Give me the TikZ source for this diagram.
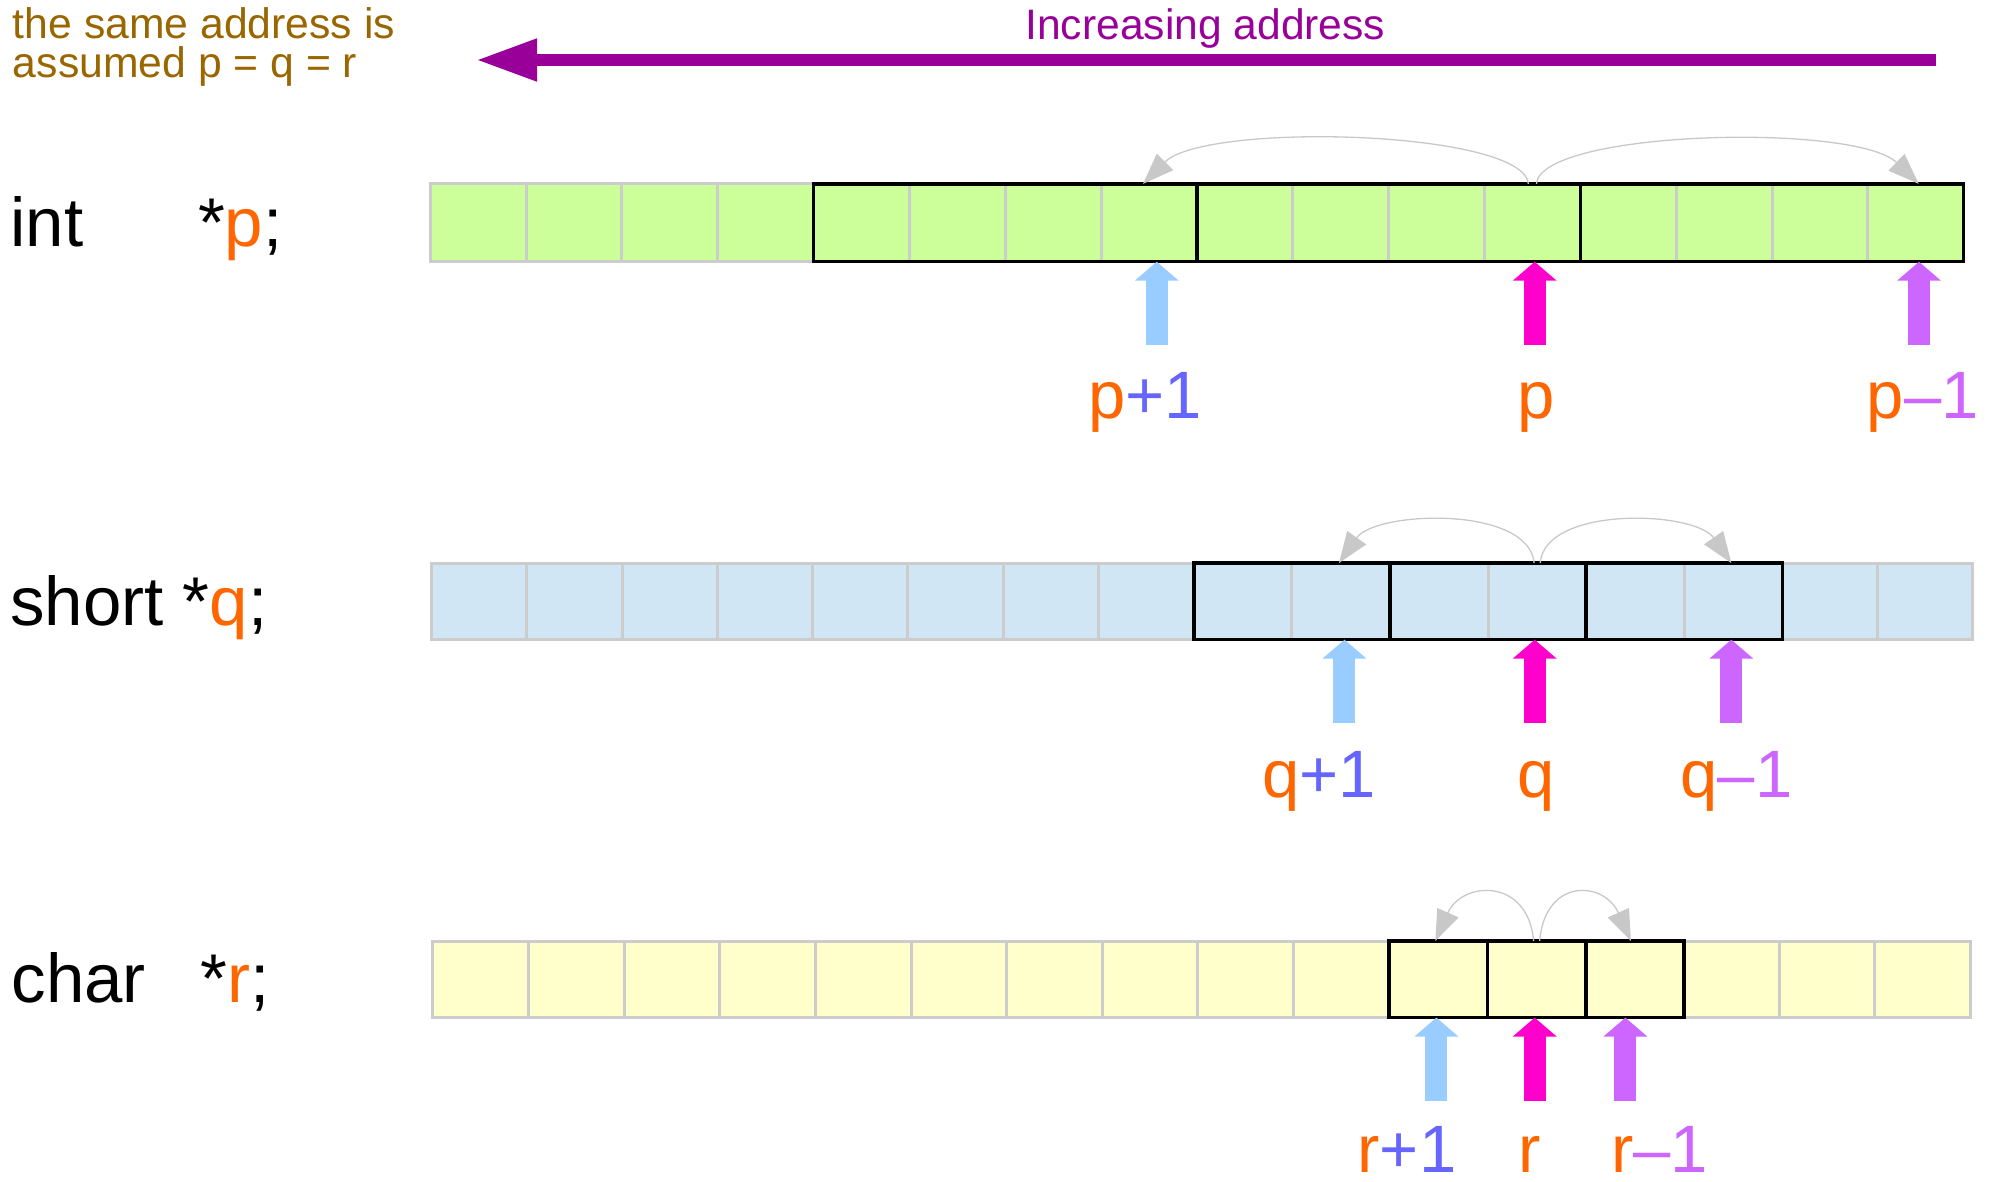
\documentclass[tikz,border=0pt]{standalone}
\usepackage{fontspec}
\setmainfont{Liberation Sans}
\usetikzlibrary{arrows.meta}

\definecolor{notebrown}{HTML}{996600}
\definecolor{addrpurple}{HTML}{990099}
\definecolor{ptrorange}{HTML}{FF6600}
\definecolor{plusblue}{HTML}{6666FF}
\definecolor{minuslilac}{HTML}{CC66FF}
\definecolor{arrowsky}{HTML}{99CCFF}
\definecolor{arrowmagenta}{HTML}{FF00CC}
\definecolor{arrowlilac}{HTML}{CC66FF}
\definecolor{cellgray}{HTML}{CCCCCC}
\definecolor{jumpgray}{HTML}{C8C8C8}
\definecolor{intfill}{HTML}{CCFF99}
\definecolor{shortfill}{HTML}{D0E6F4}
\definecolor{charfill}{HTML}{FFFFCC}

% one memory byte: name, left x, right x, centre y, height (pt), fill
\newcommand\memcell[6]{%
  \node[cell, fill=#6, minimum width={(#3-#2)*1.2768pt}, minimum height=#5]
    (#1) at ({(#2+#3)/2}, #4) {};}

\tikzset{
  cell/.style={draw=cellgray, line width=3pt, inner sep=0pt, outer sep=0pt},
  wordbox/.style={draw=black, line width=3.5pt},
  jump/.style={draw=jumpgray, line width=1.3pt, -{Triangle[length=31pt,width=23pt]}},
  ptr/.style={draw=#1, line width=22pt, -{Triangle[length=19pt,width=43pt]}},
  ptrlabel/.style={font=\fontsize{67}{74}\selectfont, anchor=base, inner sep=0pt, text depth=0pt},
  decl/.style={font=\fontsize{69}{76}\selectfont, anchor=base west, inner sep=0pt},
  note/.style={font=\fontsize{42.7}{48}\selectfont, text=notebrown, anchor=base west, inner sep=0pt},
  addrlabel/.style={font=\fontsize{42.6}{48}\selectfont, text=addrpurple, anchor=base, inner sep=0pt},
  addrarrow/.style={draw=addrpurple, line width=11.5pt, -{Triangle[length=61pt,width=40pt]}},
}

\begin{document}
\begin{tikzpicture}[x=1.2768pt, y=1.2768pt]
\useasboundingbox (0,0) rectangle (1568,-925);

% heading
\node[note] (note1) at (10,-30) {the same address is};
\node[note] (note2) at (10,-61) {assumed p = q = r};
\node[addrlabel] (inc) at (944,-31) {Increasing address};
\coordinate (addrR) at (1516,-47);
\coordinate (addrL) at (373,-47);
\draw[addrarrow] (addrR) -- (addrL);

% declarations
\node[decl] (dint) at (8,-193) {int};
\node[decl] (dp) at (155,-193) {*\textcolor{ptrorange}{p};};
\node[decl] (dshort) at (8,-490) {short *\textcolor{ptrorange}{q};};
\node[decl] (dchar) at (9,-785) {char};
\node[decl] (dr) at (157,-785) {*\textcolor{ptrorange}{r};};

% ---- int row ----
\foreach \i in {0,...,15} {
  \pgfmathsetmacro\xl{337+75.06*\i}
  \pgfmathsetmacro\xr{337+75.06*(\i+1)}
  \memcell{p\i}{\xl}{\xr}{-174.5}{77.9pt}{intfill}
}
\draw[wordbox] (p4.north west) rectangle (p7.south east);
\draw[wordbox] (p8.north west) rectangle (p11.south east);
\draw[wordbox] (p12.north west) rectangle (p15.south east);
\draw[jump] ([xshift=-4pt]p11.north) to[out=95,in=45,out distance=54pt,in distance=88pt] ([xshift=-6pt]p7.north);
\draw[jump] ([xshift=4pt]p11.north) to[out=85,in=136,out distance=54pt,in distance=88pt] ([xshift=3pt]p15.north);

\coordinate (tp1) at (906,-270);
\coordinate (tp0) at (1202,-270);
\coordinate (tpm) at (1503,-270);
\draw[ptr=arrowsky] (tp1) -- (tp1 |- p7.south);
\draw[ptr=arrowmagenta] (tp0) -- (tp0 |- p11.south);
\draw[ptr=arrowlilac] (tpm) -- (tpm |- p15.south);
\node[ptrlabel] (lp1) at (897,-328) {\textcolor{ptrorange}{p}\textcolor{plusblue}{+1}};
\node[ptrlabel] (lp0) at (1203,-328) {\textcolor{ptrorange}{p}};
\node[ptrlabel] (lpm) at (1506,-328) {\textcolor{ptrorange}{p}\textcolor{minuslilac}{\textendash1}};

% ---- short row ----
\foreach \i/\xl/\xr in {0/338/412.6, 1/412.6/487.3, 2/487.3/561.9, 3/561.9/636.5,
    4/636.5/711.1, 5/711.1/785.8, 6/785.8/860.4, 7/860.4/935,
    8/935/1011.8, 9/1011.8/1088.7, 10/1088.7/1165.5, 11/1165.5/1242.3,
    12/1242.3/1319.2, 13/1319.2/1396, 14/1396/1470.5, 15/1470.5/1545} {
  \memcell{q\i}{\xl}{\xr}{-471}{76.6pt}{shortfill}
}
\draw[wordbox] (q8.north west) rectangle (q9.south east);
\draw[wordbox] (q10.north west) rectangle (q11.south east);
\draw[wordbox] (q12.north west) rectangle (q13.south east);
\draw[jump] ([xshift=-3pt]q11.north) to[out=95,in=55,out distance=58pt,in distance=64pt] ([xshift=-2pt]q9.north);
\draw[jump] ([xshift=3pt]q11.north) to[out=85,in=125,out distance=58pt,in distance=64pt] ([xshift=-2pt]q13.north);

\coordinate (tq1) at (1053,-566);
\coordinate (tq0) at (1202,-566);
\coordinate (tqm) at (1356,-566);
\draw[ptr=arrowsky] (tq1) -- (tq1 |- q9.south);
\draw[ptr=arrowmagenta] (tq0) -- (tq0 |- q11.south);
\draw[ptr=arrowlilac] (tqm) -- (tqm |- q13.south);
\node[ptrlabel] (lq1) at (1033,-625) {\textcolor{ptrorange}{q}\textcolor{plusblue}{+1}};
\node[ptrlabel] (lq0) at (1203,-625) {\textcolor{ptrorange}{q}};
\node[ptrlabel] (lqm) at (1360,-625) {\textcolor{ptrorange}{q}\textcolor{minuslilac}{\textendash1}};

% ---- char row ----
\foreach \i/\xl/\xr in {0/339/413.9, 1/413.9/488.8, 2/488.8/563.7, 3/563.7/638.6,
    4/638.6/713.5, 5/713.5/788.4, 6/788.4/863.3, 7/863.3/938.2,
    8/938.2/1013.1, 9/1013.1/1088, 10/1088/1165, 11/1165/1242,
    12/1242/1319, 13/1319/1393.7, 14/1393.7/1468.3, 15/1468.3/1543} {
  \memcell{r\i}{\xl}{\xr}{-767}{76.6pt}{charfill}
}
\draw[wordbox] (r10.north west) rectangle (r10.south east);
\draw[wordbox] (r11.north west) rectangle (r11.south east);
\draw[wordbox] (r12.north west) rectangle (r12.south east);
\draw[jump] ([xshift=-3pt]r11.north) to[out=95,in=66,out distance=64pt,in distance=66pt] ([xshift=-3pt]r10.north);
\draw[jump] ([xshift=3pt]r11.north) to[out=85,in=114,out distance=64pt,in distance=66pt] ([xshift=-4pt]r12.north);

\coordinate (tr1) at (1125,-862);
\coordinate (tr0) at (1202,-862);
\coordinate (trm) at (1273,-862);
\draw[ptr=arrowsky] (tr1) -- (tr1 |- r10.south);
\draw[ptr=arrowmagenta] (tr0) -- (tr0 |- r11.south);
\draw[ptr=arrowlilac] (trm) -- (trm |- r12.south);
\node[ptrlabel] (lr1) at (1102,-918) {\textcolor{ptrorange}{r}\textcolor{plusblue}{+1}};
\node[ptrlabel] (lr0) at (1198,-918) {\textcolor{ptrorange}{r}};
\node[ptrlabel] (lrm) at (1300,-918) {\textcolor{ptrorange}{r}\textcolor{minuslilac}{\textendash1}};
\end{tikzpicture}
\end{document}
